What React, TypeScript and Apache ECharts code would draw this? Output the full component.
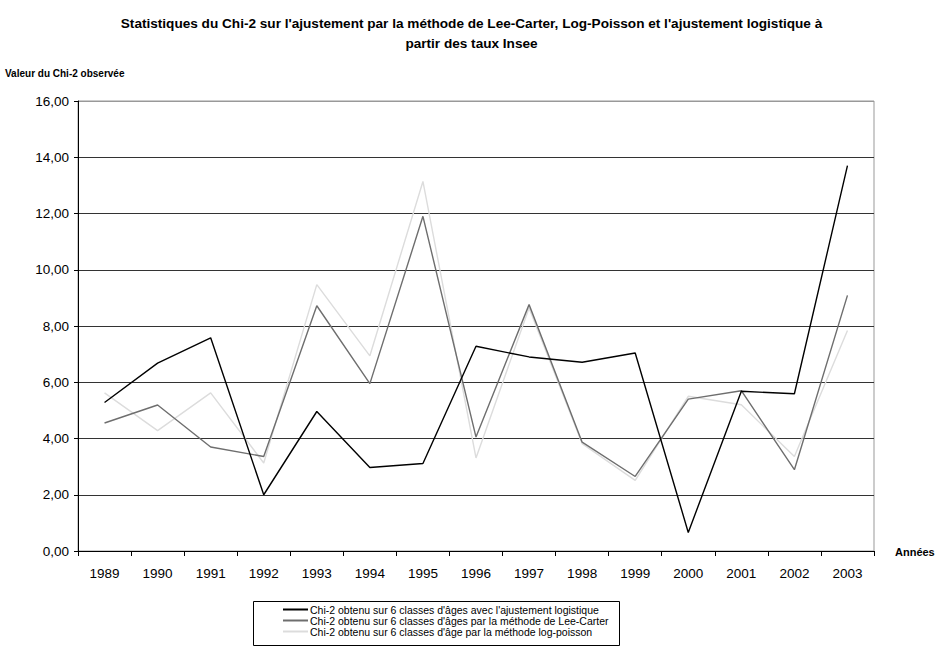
import React, { useEffect, useRef } from "react";
import * as echarts from "echarts";

const years = ["1989","1990","1991","1992","1993","1994","1995","1996","1997","1998","1999","2000","2001","2002","2003"];
const logistique = [5.28, 6.68, 7.58, 2.0, 4.96, 2.97, 3.11, 7.28, 6.9, 6.71, 7.04, 0.66, 5.68, 5.59, 13.7];
const leeCarter = [4.55, 5.19, 3.7, 3.36, 8.72, 5.95, 11.9, 4.05, 8.76, 3.87, 2.65, 5.4, 5.7, 2.89, 9.09];
const logPoisson = [5.62, 4.28, 5.62, 3.13, 9.47, 6.94, 13.14, 3.31, 8.64, 3.82, 2.51, 5.5, 5.2, 3.36, 7.84];
const names = [
  "Chi-2 obtenu sur 6 classes d'âges avec l'ajustement logistique",
  "Chi-2 obtenu sur 6 classes d'âges par la méthode de Lee-Carter",
  "Chi-2 obtenu sur 6 classes d'âge par la méthode log-poisson",
];
const colors = ["#000000", "#6e6e6e", "#dcdcdc"];

const FONT = "'Liberation Sans', Arial, sans-serif";

export default function App() {
  const ref = useRef<HTMLDivElement>(null);
  useEffect(() => {
    if (!ref.current) return;
    const chart = echarts.init(ref.current, null, { renderer: "svg" });
    const seriesData = [logistique, leeCarter, logPoisson];
    chart.setOption({
      animation: false,
      backgroundColor: "#ffffff",
      textStyle: { fontFamily: FONT },
      title: {
        text: "Statistiques du Chi-2 sur l'ajustement par la méthode de Lee-Carter, Log-Poisson et l'ajustement logistique à\npartir des taux Insee",
        left: "center",
        top: 8,
        textStyle: { fontFamily: FONT, fontSize: 13.6, fontWeight: "bold", color: "#000", lineHeight: 20, align: "center" },
      },
      graphic: [
        {
          type: "text",
          left: 5,
          top: 68,
          style: { text: "Valeur du Chi-2 observée", fontFamily: FONT, fontSize: 10, fontWeight: "bold", fill: "#000" },
        },
        {
          type: "text",
          left: 895,
          top: 546,
          style: { text: "Années", fontFamily: FONT, fontSize: 11, fontWeight: "bold", fill: "#000" },
        },
        {
          type: "rect",
          shape: { x: 253.5, y: 601.5, width: 366, height: 44 },
          style: { fill: "none", stroke: "#000", lineWidth: 1 },
          z: 10,
        },
      ],
      grid: { left: 78, right: 69, top: 101, bottom: 97, show: true, borderColor: "#999", borderWidth: 1 },
      legend: {
        orient: "vertical",
        left: 253,
        top: 601,
        itemGap: 0,
        itemWidth: 25,
        itemHeight: 2,
        icon: "rect",
        padding: [3, 5, 10, 30],
        borderWidth: 0,
        textStyle: { fontFamily: FONT, fontSize: 10.5, color: "#000", padding: [0, 0, 0, -3], lineHeight: 11 },
        data: names,
      },
      xAxis: {
        type: "category",
        data: years,
        boundaryGap: true,
        axisLine: { lineStyle: { color: "#000", width: 1 } },
        axisTick: { show: true, alignWithLabel: false, length: 5, lineStyle: { color: "#000" } },
        axisLabel: { fontFamily: FONT, fontSize: 13.5, color: "#000", margin: 15, interval: 0 },
      },
      yAxis: {
        type: "value",
        min: 0,
        max: 16,
        interval: 2,
        axisLine: { show: true, lineStyle: { color: "#000", width: 1 } },
        axisTick: { show: true, length: 4, lineStyle: { color: "#000" } },
        axisLabel: {
          fontFamily: FONT,
          fontSize: 13.5,
          color: "#000",
          margin: 9,
          formatter: (v: number) => v.toFixed(2).replace(".", ","),
        },
        splitLine: {
          show: true,
          lineStyle: { color: ["#333", "#333", "#333", "#333", "#333", "#333", "#333", "#333", "#999"], width: 1 },
        },
      },
      series: seriesData.map((d, i) => ({
        name: names[i],
        type: "line",
        data: d,
        symbol: "none",
        showSymbol: false,
        lineStyle: { color: colors[i], width: 1.4 },
        itemStyle: { color: colors[i] },
        z: 3 - i,
      })),
    });
    return () => chart.dispose();
  }, []);
  return <div ref={ref} style={{ width: 943, height: 648, position: "absolute", left: 0, top: 0 }} />;
}
